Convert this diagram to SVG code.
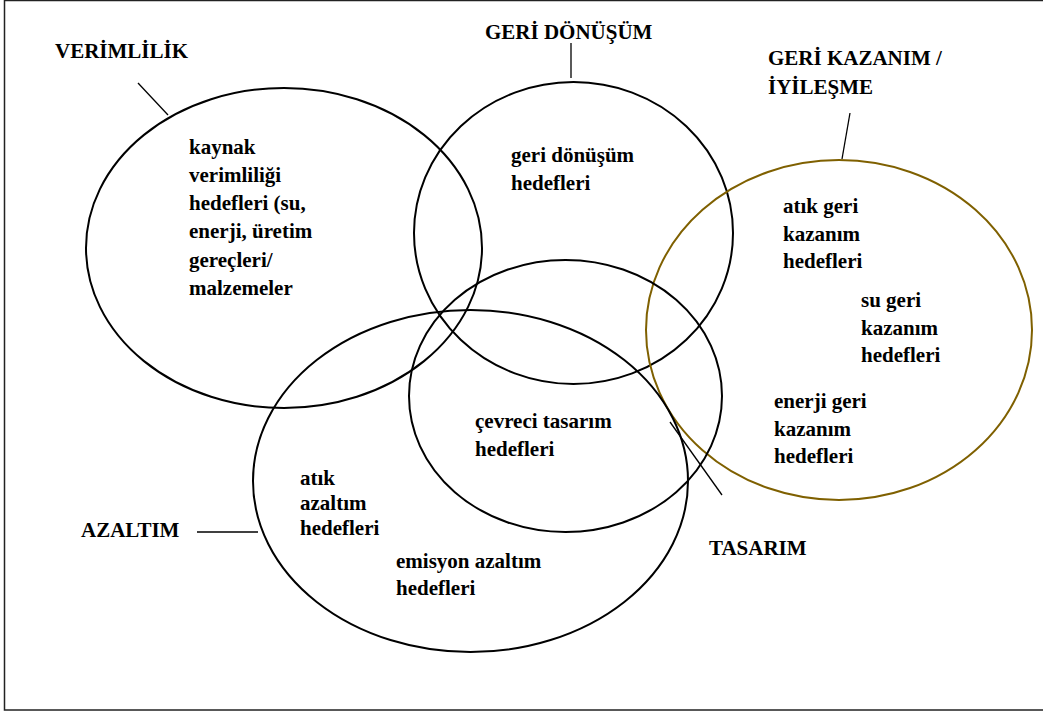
<svg xmlns="http://www.w3.org/2000/svg" width="1043" height="713" viewBox="0 0 1043 713">
<style>
.c{fill:none;stroke:#000;stroke-width:2}
.b{fill:none;stroke:#7f6000;stroke-width:2}
.l{stroke:#000;stroke-width:1.3;fill:none}
text{font-family:"Liberation Serif","Times New Roman",serif;font-weight:bold;font-size:21px;fill:#000}
</style>
<rect x="4.5" y="0.5" width="1045" height="709.5" fill="#fff" stroke="#222" stroke-width="1.5"/>
<g id="verimlilik">
<ellipse class="c" cx="284" cy="248" rx="198" ry="160"/>
<text x="55" y="58">VERİMLİLİK</text>
<text x="189" y="154">kaynak</text>
<text x="189" y="182">verimliliği</text>
<text x="189" y="210">hedefleri (su,</text>
<text x="189" y="238">enerji, üretim</text>
<text x="189" y="267">gereçleri/</text>
<text x="189" y="295">malzemeler</text>
</g>
<g id="geri-donusum">
<ellipse class="c" cx="573.5" cy="233" rx="159.5" ry="151"/>
<text x="485" y="39">GERİ DÖNÜŞÜM</text>
<text x="511" y="162">geri dönüşüm</text>
<text x="511" y="190">hedefleri</text>
</g>
<g id="geri-kazanim">
<ellipse class="b" cx="839" cy="330" rx="193" ry="170"/>
<text x="768" y="65">GERİ KAZANIM /</text>
<text x="768" y="94">İYİLEŞME</text>
<text x="783" y="213">atık geri</text>
<text x="783" y="241">kazanım</text>
<text x="783" y="268">hedefleri</text>
<text x="861" y="307">su geri</text>
<text x="861" y="335">kazanım</text>
<text x="861" y="362">hedefleri</text>
<text x="774" y="408">enerji geri</text>
<text x="774" y="436">kazanım</text>
<text x="774" y="463">hedefleri</text>
</g>
<g id="tasarim">
<ellipse class="c" cx="565.5" cy="396" rx="156.5" ry="136"/>
<text x="709" y="555">TASARIM</text>
<text x="475" y="428">çevreci tasarım</text>
<text x="475" y="456">hedefleri</text>
</g>
<g id="azaltim">
<ellipse class="c" cx="470.5" cy="481" rx="217.5" ry="171"/>
<text x="81" y="537">AZALTIM</text>
<text x="300" y="485">atık</text>
<text x="300" y="510">azaltım</text>
<text x="300" y="535">hedefleri</text>
<text x="396" y="568">emisyon azaltım</text>
<text x="396" y="595">hedefleri</text>
</g>
<g id="connectors">
<line class="l" x1="138" y1="83" x2="168" y2="115"/>
<line class="l" x1="571" y1="43" x2="571" y2="78"/>
<line class="l" x1="850" y1="113" x2="842" y2="159"/>
<line class="l" x1="197" y1="532" x2="258" y2="532"/>
<line class="l" x1="670" y1="422" x2="722" y2="495"/>
</g>
</svg>
